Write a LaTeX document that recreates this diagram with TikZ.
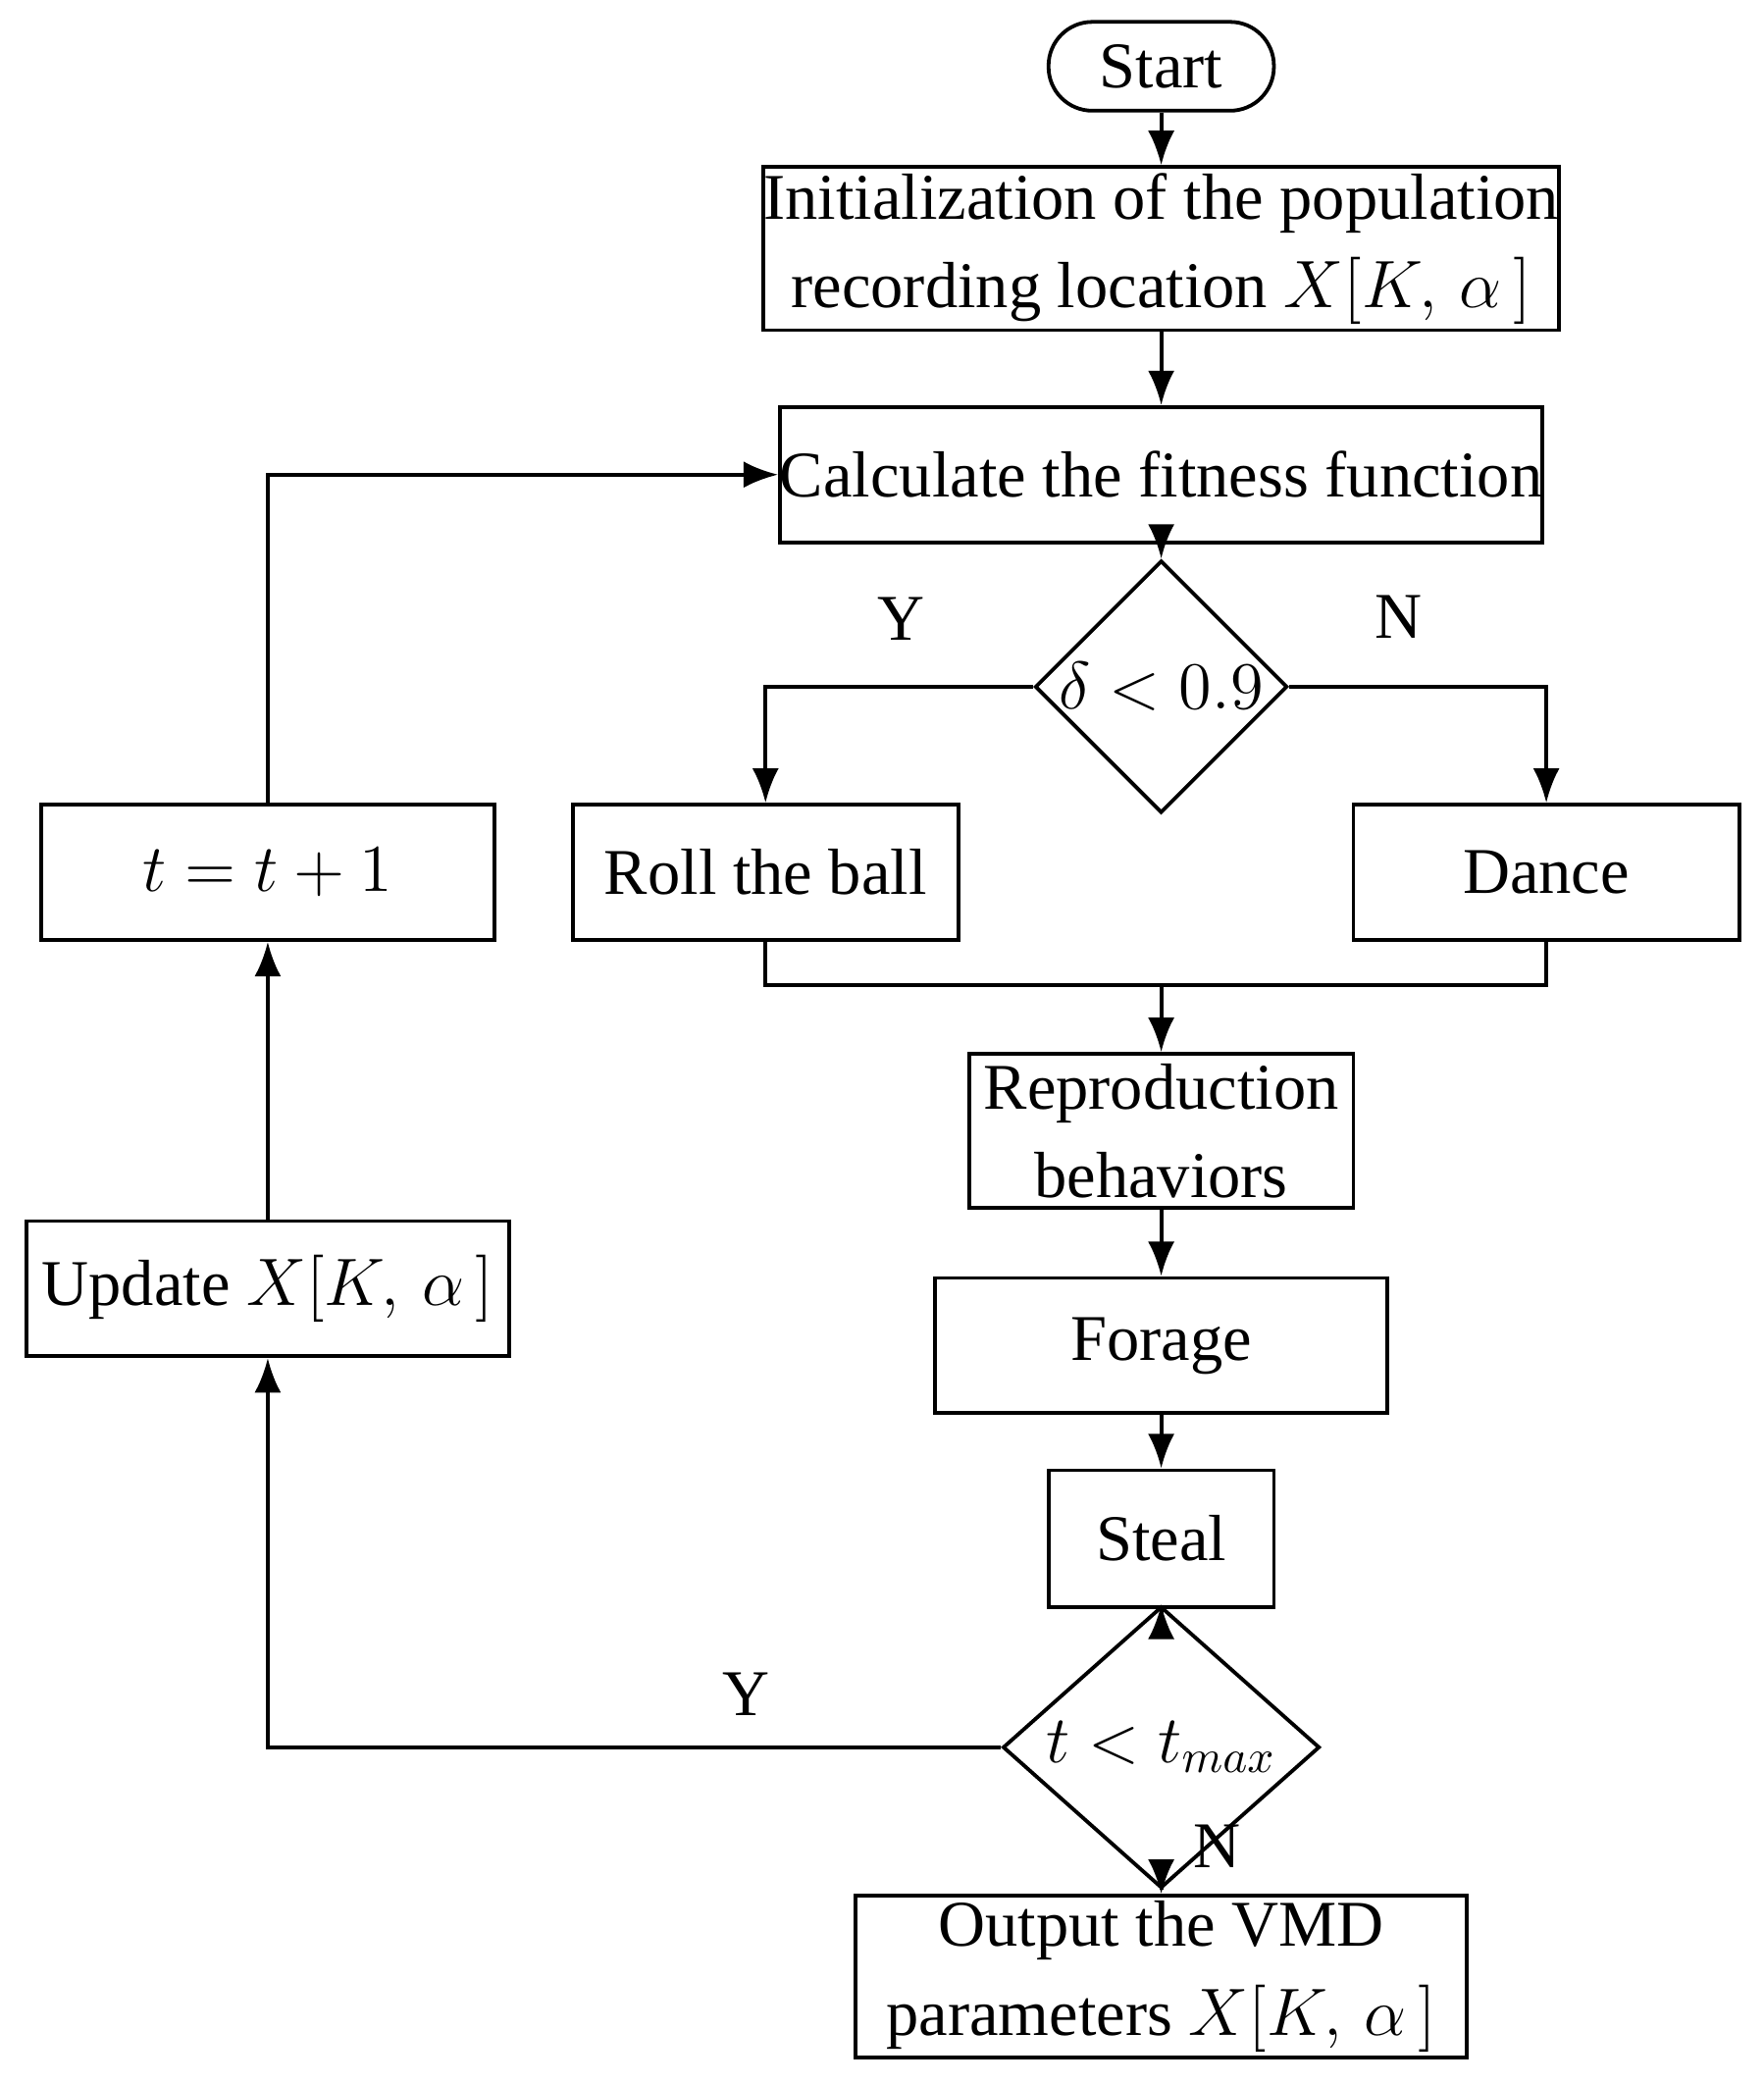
\documentclass[tikz,border=0pt]{standalone}
\usepackage{fontspec}
\setmainfont{Liberation Serif}
\usetikzlibrary{shapes.geometric,arrows.meta}
\tikzset{
  box/.style={draw, thick, align=center, inner sep=0pt, font=\fontsize{14}{19}\selectfont},
  cond/.style={draw, thick, diamond, inner sep=0pt, font=\fontsize{14}{19}\selectfont},
  arr/.style={thick, -{Latex[length=2.6mm,width=2mm]}},
  lbl/.style={font=\fontsize{14}{19}\selectfont}
}
\begin{document}
\begin{tikzpicture}
\useasboundingbox (0,0) rectangle (13.30,-15.72);

 \node[box, rounded corners=0.33cm, minimum width=1.70cm, minimum height=0.67cm] (start) at (8.76,-0.50) {Start};
 \node[box, minimum width=5.74cm, minimum height=1.23cm] (init) at (8.76,-1.875) {Initialization of the population\\recording location $X[K,\,\alpha\,]$};
 \node[box, minimum width=5.74cm, minimum height=1.02cm] (calc) at (8.76,-3.58) {Calculate the fitness function};
 \node[cond, minimum width=1.70cm, minimum height=1.01cm] (dec1) at (8.76,-5.18) {$\delta<0.9$};
 \node[box, minimum width=2.91cm, minimum height=1.02cm] (roll) at (5.775,-6.58) {Roll the ball};
 \node[box, minimum width=2.91cm, minimum height=1.02cm] (dance) at (11.665,-6.58) {Dance};
 \node[box, minimum width=3.42cm, minimum height=1.02cm] (tinc) at (2.02,-6.58) {$t=t+1$};
 \coordinate (merge) at (8.76,-7.43);
 \node[box, minimum width=2.90cm, minimum height=1.16cm] (repro) at (8.76,-8.53) {Reproduction\\behaviors};
 \node[box, minimum width=3.41cm, minimum height=1.02cm] (forage) at (8.76,-10.15) {Forage};
 \node[box, minimum width=1.70cm, minimum height=1.03cm] (steal) at (8.76,-11.605) {Steal};
 \node[cond, minimum width=2.39cm, minimum height=1.27cm] (dec2) at (8.76,-13.18) {$t<t_{max}$};
 \node[box, minimum width=3.64cm, minimum height=1.02cm] (update) at (2.02,-9.72) {Update $X[K,\,\alpha\,]$};
 \node[box, minimum width=4.61cm, minimum height=1.22cm] (output) at (8.76,-14.91) {Output the VMD\\parameters $X[K,\,\alpha\,]$};

 \draw[arr] (start) -- (init);
 \draw[arr] (init) -- (calc);
 \draw[arr] (calc) -- (dec1);
 \draw[arr] (dec1.west) -| (roll.north);
 \draw[arr] (dec1.east) -| (dance.north);
 \draw[thick] (roll.south) |- (merge) -| (dance.south);
 \draw[arr] (merge) -- (repro);
 \draw[arr] (repro) -- (forage);
 \draw[arr] (forage) -- (steal);
 \draw[arr] (steal) -- (dec2);
 \draw[arr] (dec2) -- (output);
 \draw[arr] (dec2.west) -| (update.south);
 \draw[arr] (update) -- (tinc);
 \draw[arr] (tinc.north) |- (calc.west);

 \node[lbl] (y1) at (6.80,-4.67) {Y};
 \node[lbl] (n1) at (10.55,-4.65) {N};
 \node[lbl] (y2) at (5.63,-12.78) {Y};
 \node[lbl] (n2) at (9.18,-13.93) {N};
\end{tikzpicture}
\end{document}
